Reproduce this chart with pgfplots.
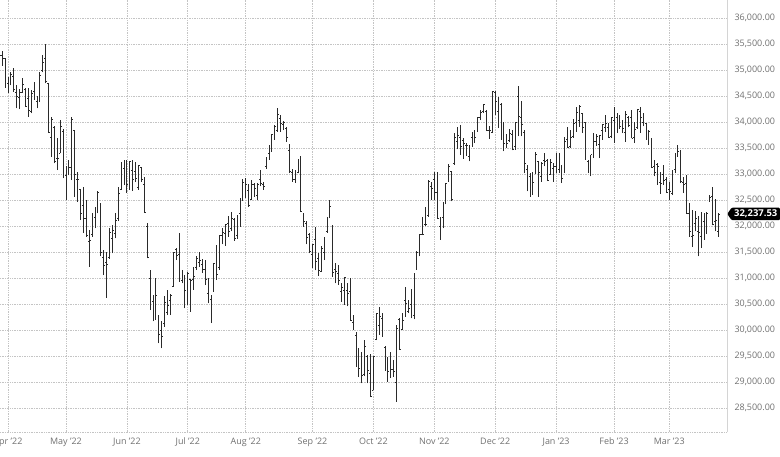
\documentclass[border=0pt]{standalone}
\usepackage{fontspec}
\setmainfont{Open Sans}
\usepackage{pgfplots}
\pgfplotsset{compat=1.18}
\usepackage{pgfplotstable}
\usetikzlibrary{shapes.symbols}

\definecolor{tickgray}{HTML}{707070}
\definecolor{gridgray}{HTML}{C4C4C4}
\definecolor{axisgray}{HTML}{D4D4D4}
\definecolor{bargray}{HTML}{2A2A2A}

% daily OHLC, x = trading-day index (0 = 1 Apr 2022)
\pgfplotstableread{
i o h l c
-3 35050 35370 34980 35294
-2 35290 35372 35085 35228
-1 35220 35240 34670 34678
0 34740 34870 34560 34818
1 34800 34960 34710 34922
2 34890 35050 34580 34641
3 34570 34720 34270 34497
4 34470 34640 34250 34584
5 34580 34850 34580 34721
6 34630 34660 34300 34308
7 34450 34650 34110 34220
8 34200 34620 34170 34565
9 34590 34770 34430 34451
10 34400 34510 34270 34412
11 34410 34970 34400 34911
12 34990 35290 34960 35161
13 35220 35500 34750 34793
14 34740 34750 33790 33811
15 33700 34100 33340 34049
16 33900 33920 33210 33240
17 33300 33690 33080 33302
18 33400 34040 33400 33916
19 33830 33880 32920 32977
20 32970 33150 32500 33061
21 33060 33270 32980 33129
22 33130 34110 32890 34061
23 33850 33850 32570 32998
24 32900 33050 32470 32899
25 32700 32700 32120 32246
26 32400 32760 31870 32160
27 32160 32500 31800 31834
28 31700 31930 31220 31730
29 31850 32250 31800 32197
30 32170 32380 31960 32223
31 32400 32670 32250 32655
32 32440 32440 31420 31490
33 31400 31540 31060 31253
34 31300 31510 30630 31262
35 31400 31960 31380 31880
36 31760 32030 31480 31929
37 31870 32250 31770 32120
38 32150 32760 32100 32637
39 32700 33240 32700 33213
40 33110 33270 32800 32990
41 33000 33270 32640 32813
42 32800 33250 32700 33248
43 33070 33270 32680 32900
44 33050 33240 32850 32916
45 32740 33180 32700 33180
46 33130 33140 32850 32910
47 32800 32950 32270 32272
48 32000 32060 31385 31393
49 31000 31150 30390 30516
50 30550 30680 30170 30365
51 30400 31000 30200 30668
52 30290 30290 29750 29927
53 30000 30170 29650 29889
54 30130 30650 30070 30530
55 30350 30780 30290 30484
56 30570 30700 30290 30677
57 30850 31510 30840 31500
58 31560 31580 31350 31438
59 31460 31880 30935 30947
60 30950 31160 30900 31029
61 30810 31060 30420 30775
62 30780 31130 30490 31097
63 30970 30970 30360 30968
64 30970 31220 30780 31037
65 31200 31420 31160 31385
66 31300 31510 31220 31338
67 31260 31380 31100 31173
68 31180 31350 30870 30982
69 30700 31000 30520 30773
70 30600 30680 30140 30630
71 30750 31290 30750 31289
72 31400 31640 30970 31072
73 31200 31830 31160 31827
74 31830 31970 31650 31875
75 31870 32040 31630 32036
76 32050 32200 31800 31899
77 31950 32280 31900 32145
78 32130 32160 31720 31762
79 31830 32220 31760 32198
80 32240 32550 31990 32529
81 32500 32900 32500 32845
82 32800 32930 32550 32798
83 32690 32810 32380 32397
84 32520 32890 32510 32813
85 32800 32830 32570 32727
86 32600 32830 32510 32803
87 32900 33080 32770 32833
88 32800 32860 32700 32775
89 33150 33340 33110 33310
90 33400 33560 33280 33336
91 33450 33770 33430 33761
92 33680 33950 33660 33912
93 33850 34280 33820 34152
94 34080 34140 33820 33981
95 33950 34020 33850 33999
96 33880 33910 33630 33706
97 33460 33580 33020 33064
98 33040 33110 32860 32910
99 32900 33080 32840 32969
100 33030 33300 33020 33291
101 33300 33350 32280 32283
102 32150 32250 31990 32099
103 32050 32100 31650 31791
104 31850 31880 31480 31510
105 31450 31660 31200 31656
106 31740 31990 31150 31318
107 31380 31480 31050 31145
108 31140 31620 31120 31581
109 31490 31800 31350 31775
110 31900 32170 31880 32151
111 32200 32510 32150 32381
112 31990 32025 31030 31105
113 31180 31290 30900 31135
114 31090 31260 30880 30962
115 30740 30900 30550 30822
116 30760 31030 30490 31020
117 30770 30900 30460 30706
118 30750 31000 30180 30184
119 30150 30290 30000 30077
120 29900 29970 29300 29590
121 29600 29650 29100 29260
122 29500 29590 28980 29135
123 29150 29810 29120 29684
124 29500 29520 28980 29226
125 29180 29550 28720 28726
126 28850 29500 28850 29491
127 29820 30320 29810 30317
128 30100 30440 29910 30274
129 30230 30330 29880 29927
130 29680 29690 29220 29297
131 29350 29490 29010 29203
132 29150 29590 29080 29240
133 29250 29430 29110 29211
134 29000 30100 28630 30039
135 30200 30230 29620 29635
136 30010 30330 30000 30186
137 30570 30840 30260 30524
138 30370 30590 30330 30424
139 30500 30800 30230 30334
140 30280 31110 30210 31083
141 31170 31530 31160 31500
142 31500 31860 31420 31837
143 31840 32180 31830 31839
144 32030 32380 32000 32034
145 32200 32890 32180 32861
146 32770 32860 32510 32733
147 32900 33050 32510 32653
148 32660 33050 32140 32148
149 32000 32180 31740 32001
150 32170 32470 31960 32403
151 32450 32830 32420 32827
152 32900 33200 32860 33161
153 33050 33050 32480 32514
154 33200 33790 33180 33716
155 33640 33900 33480 33748
156 33700 33950 33370 33537
157 33650 33700 33300 33593
158 33550 33600 33350 33554
159 33350 33560 33250 33547
160 33700 33820 33530 33746
161 33720 33850 33600 33701
162 33830 34100 33820 34098
163 34100 34240 34040 34195
164 34210 34360 34180 34347
165 34200 34240 33830 33850
166 33850 33920 33680 33853
167 33800 34600 33790 34590
168 34580 34600 34140 34395
169 34200 34490 33890 34430
170 34350 34370 33660 33947
171 33950 34010 33440 33597
172 33600 33780 33500 33598
173 33650 33880 33620 33781
174 33760 33860 33460 33477
175 33530 34010 33470 34005
176 34500 34700 33730 34108
177 34100 34400 33730 33966
178 33800 33850 33020 33203
179 33100 33180 32670 32920
180 32950 33020 32570 32757
181 32650 33050 32600 32850
182 33020 33430 33020 33377
183 33240 33240 32570 33027
184 32960 33240 32860 33204
185 33260 33400 33150 33241
186 33260 33300 32870 32875
187 33000 33300 32990 33221
188 33120 33210 32860 33147
189 33150 33400 33020 33136
190 33100 33400 33020 33270
191 33180 33180 32830 32930
192 33050 33720 33020 33631
193 33680 33910 33510 33518
194 33540 33850 33500 33704
195 33720 34070 33700 33973
196 34000 34300 33820 34190
197 34030 34330 33910 34303
198 34170 34170 33790 33911
199 34000 34010 33280 33297
200 33250 33270 33020 33045
201 33050 33380 32960 33376
202 33380 33790 33310 33630
203 33630 33770 33550 33734
204 33570 33760 33310 33744
205 33840 33960 33660 33950
206 33900 34140 33820 33978
207 33900 33980 33710 33717
208 33730 34090 33700 34086
209 34040 34300 33600 34093
210 34100 34170 33790 34054
211 33910 34140 33880 33926
212 33800 34040 33790 33891
213 33800 34210 33630 34156
214 34100 34120 33900 33949
215 34100 34240 33690 33699
216 33700 34010 33600 33869
217 33900 34250 33880 34246
218 34200 34300 33790 34089
219 34000 34180 33920 34128
220 33980 33990 33660 33697
221 33680 33850 33570 33827
222 33580 33690 33120 33130
223 33150 33270 32960 33045
224 33190 33210 32800 33154
225 32840 33050 32630 32817
226 33000 33180 32800 32889
227 32900 32950 32640 32657
228 32700 32860 32510 32662
229 32630 33080 32600 33004
230 33100 33400 33020 33391
231 33410 33570 33340 33432
232 33430 33470 32830 32856
233 32840 32950 32640 32798
234 32830 32990 32240 32255
235 32240 32440 31800 31910
236 31800 32320 31600 31820
237 32060 32300 31900 32155
238 31900 32200 31420 31875
239 31800 32280 31580 32247
240 32100 32250 31740 31862
241 31940 32280 31860 32245
242 32480 32600 32470 32561
243 32580 32760 32020 32031
244 32100 32520 31900 32106
245 31900 32250 31800 32237.53
}\ohlc

\begin{document}
\begin{tikzpicture}
\begin{axis}[
    at={(0,0)}, anchor=south west,
    scale only axis,
    width=727bp, height=432bp,
    xmin=-2.76, xmax=247.93,
    ymin=28044, ymax=36352,
    axis x line*=bottom,
    axis y line*=right,
    axis line style={-},
    x axis line style={gridgray, line width=0.7bp, dash pattern=on 0.8bp off 0.9bp},
    y axis line style={axisgray, line width=0.8bp},
    xtick={0,20,41,62,82,105,126,147,168,189,209,228},
    xticklabels={Apr '22,May '22,Jun '22,Jul '22,Aug '22,Sep '22,Oct '22,Nov '22,Dec '22,Jan '23,Feb '23,Mar '23},
    ytick={28500,29000,...,36000},
    scaled y ticks=false,
    yticklabel style={/pgf/number format/fixed, /pgf/number format/fixed zerofill,
        /pgf/number format/precision=2, /pgf/number format/1000 sep={,},
        /pgf/number format/assume math mode=true, xshift=4bp},
    tick label style={font=\fontsize{9}{11}\selectfont, text=tickgray},
    xticklabel style={yshift=-2bp},
    grid=major,
    major grid style={gridgray, line width=0.7bp, dash pattern=on 0.8bp off 0.9bp},
    major tick length=0pt,
    tick style={draw=none},
    clip=true,
]
% high-low range
\addplot[draw=none, mark=none,
    error bars/.cd, y dir=plus, y explicit, error mark=none,
    error bar style={draw=bargray, line width=0.9bp}]
    table[x=i, y=l, y error expr=\thisrow{h}-\thisrow{l}] {\ohlc};
% open tick
\addplot[draw=none, mark=none,
    error bars/.cd, x dir=minus, x fixed=0.45, error mark=none,
    error bar style={draw=bargray, line width=0.8bp}]
    table[x=i, y=o] {\ohlc};
% close tick
\addplot[draw=none, mark=none,
    error bars/.cd, x dir=plus, x fixed=0.45, error mark=none,
    error bar style={draw=bargray, line width=0.8bp}]
    table[x=i, y=c] {\ohlc};
\coordinate (last) at (axis cs:247.93,32237.53);
\end{axis}
\node[signal, signal to=west, signal pointer angle=110, fill=black, text=white,
    font=\fontsize{9.5}{11}\selectfont\bfseries, inner xsep=2.5bp, inner ysep=2.2bp,
    anchor=west, rounded corners=1bp] at (last) {32,237.53};
\pgfresetboundingbox
\path (0,-25bp) rectangle (780bp,432bp);
\end{tikzpicture}
\end{document}
